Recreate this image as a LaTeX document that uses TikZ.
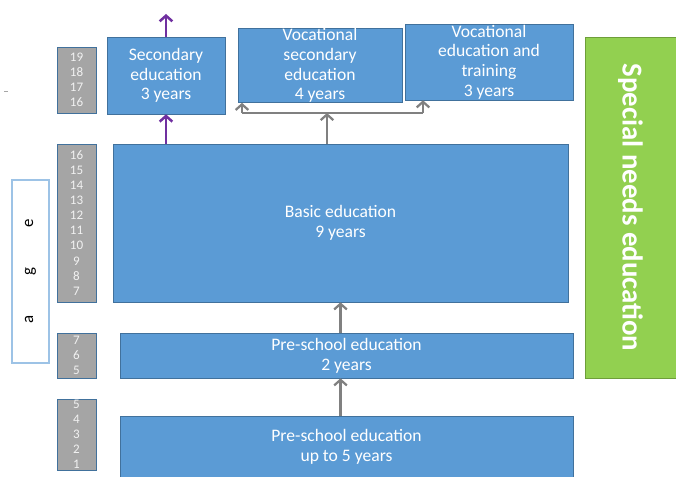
\documentclass[tikz,border=0pt]{standalone}
\usepackage{fontspec}
\setmainfont{Carlito}
\usetikzlibrary{arrows.meta}

\definecolor{boxblue}{HTML}{5B9BD5}
\definecolor{edgeblue}{HTML}{41719C}
\definecolor{agegray}{HTML}{A5A5A5}
\definecolor{sngreen}{HTML}{92D050}
\definecolor{snedge}{HTML}{6E9E3A}
\definecolor{upviolet}{HTML}{7030A0}
\definecolor{linkgray}{HTML}{808080}
\definecolor{labelblue}{HTML}{9DC3E6}

\begin{document}
\begin{tikzpicture}[x=0.025cm, y=-0.025cm, >={Straight Barb[length=4pt,width=9pt]},
		stage/.style={draw=edgeblue, fill=boxblue, text=white, align=center, inner sep=0pt, font=\fontsize{12.5}{14}\selectfont},
		ages/.style={draw=edgeblue, fill=agegray, text=white!90!gray, align=center, inner sep=0pt, minimum width=0.975cm, font=\fontsize{9.3}{10.7}\selectfont},
		link/.style={->, draw=linkgray, line width=1.6pt},
		upward/.style={->, draw=upviolet, line width=1.8pt}]
		\useasboundingbox (0,0) rectangle (676,477);
		
		% upper secondary
		\node[stage, minimum width=2.95cm, minimum height=1.925cm] (sec) at (166,75.5) {Secondary\\education\\3 years};
		\node[stage, minimum width=4.1cm, minimum height=1.775cm] (voc) at (320,65.5) {Vocational\\secondary\\education\\4 years};
		\node[stage, minimum width=4.2cm, minimum height=1.9cm] (vet) at (489,62) {Vocational\\education and\\training\\3 years};
		
		% basic and pre-school
		\node[stage, minimum width=11.375cm, minimum height=3.95cm] (basic) at (340.5,223) {Basic education\\9 years};
		\node[stage, minimum width=11.325cm, minimum height=1.125cm] (pre2) at (346.5,355.5) {Pre-school education\\2 years};
		\node[stage, minimum width=11.325cm, minimum height=1.525cm] (pre5) at (346.5,446.5) {Pre-school education\\up to 5 years};
		
		\node[draw=snedge, fill=sngreen, text=white, rotate=-90, inner sep=0pt, minimum width=8.525cm, minimum height=2.275cm, font=\fontsize{20.5}{22}\selectfont\bfseries] (special) at (630.5,207.5) {Special needs education};
		
		% age columns
		\node[ages, minimum height=1.65cm] (age19) at (76.5,80) {19\\18\\17\\16};
		\node[ages, minimum height=3.95cm] (age16) at (76.5,223) {16\\15\\14\\13\\12\\11\\10\\9\\8\\7};
		\node[ages, minimum height=1.125cm] (age7) at (76.5,355.5) {7\\6\\5};
		\node[ages, minimum height=1.775cm] (age5) at (76.5,434.5) {5\\4\\3\\2\\1};
		\node[draw=labelblue, line width=0.8pt, fill=white, rotate=90, inner sep=0pt, minimum width=4.575cm, minimum height=0.925cm, font=\fontsize{12}{14}\selectfont] (agelabel) at (30.5,271.5) {a\hspace{1.0cm}g\hspace{1.0cm}e};
		
		\draw[gray!70, line width=0.6pt] (4,91) -- (8,91);
		
		% connectors
		\coordinate (exit) at (166,14);
		\coordinate (fork) at (327,113);
		\coordinate (forkL) at (242,113);
		\coordinate (forkR) at (423,113);
		\draw[upward] (sec.north) -- (exit);
		\draw[upward] (basic.north -| sec.south) -- (sec.south);
		\draw[link] (basic.north -| fork) -- (fork);
		\draw[draw=linkgray, line width=1.4pt] (forkL) -- (forkR);
		\draw[link] (forkL) -- (forkL |- voc.south);
		\draw[link] (forkR) -- (forkR |- vet.south);
		\draw[link] (pre2.north -| basic.south) -- (basic.south);
		\draw[link] (pre5.north -| basic.south) -- (pre2.south -| basic.south);
	\end{tikzpicture}
\end{document}
